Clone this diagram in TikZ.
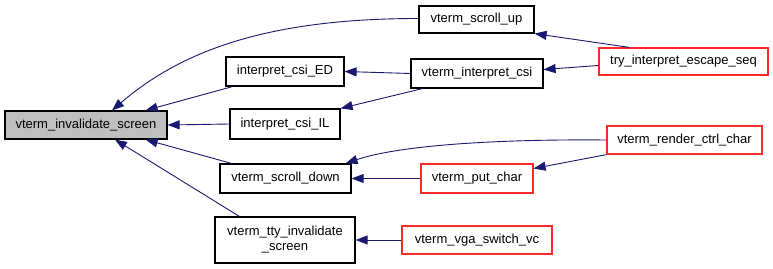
\documentclass[tikz,border=0pt]{standalone}
\usepackage{fontspec}
\setmainfont{Liberation Sans}
\usetikzlibrary{arrows.meta}
\definecolor{edgeblue}{RGB}{25,25,112}
\definecolor{rootgray}{RGB}{191,191,191}
\definecolor{extred}{RGB}{255,40,40}
\tikzset{
  fn/.style={draw=black, line width=1.2pt, fill=white, inner sep=0pt, align=center,
             font=\fontsize{13}{15}\selectfont},
  root/.style={fn, fill=rootgray},
  ext/.style={fn, draw=extred},
  call/.style={draw=edgeblue, line width=0.9pt,
               -{Triangle[length=12pt,width=9pt,fill=edgeblue]}},
}
\begin{document}
\begin{tikzpicture}[x=1pt,y=-1pt]
\useasboundingbox (0,0) rectangle (773,268);
\fill[white] (0,0) rectangle (773,268);

% functions
\node[root, minimum width=162, minimum height=28] (inv) at (86,125) {vterm\_invalidate\_screen};
\node[fn,  minimum width=115, minimum height=27] (su)  at (476.5,19.5) {vterm\_scroll\_up};
\node[fn,  minimum width=118, minimum height=29] (ed)  at (285,71.5) {interpret\_csi\_ED};
\node[fn,  minimum width=110, minimum height=30] (il)  at (285,124) {interpret\_csi\_IL};
\node[fn,  minimum width=132, minimum height=29] (csi) at (477,73.5) {vterm\_interpret\_csi};
\node[fn,  minimum width=131, minimum height=29] (sd)  at (285.5,178.5) {vterm\_scroll\_down};
\node[fn,  minimum width=140, minimum height=46] (tty) at (285,240) {vterm\_tty\_invalidate\\\_screen};
\node[ext, minimum width=169, minimum height=27] (tie) at (683.5,61.5) {try\_interpret\_escape\_seq};
\node[ext, minimum width=112, minimum height=29] (pc)  at (477,178.5) {vterm\_put\_char};
\node[ext, minimum width=150, minimum height=28] (vga) at (477,240) {vterm\_vga\_switch\_vc};
\node[ext, minimum width=155, minimum height=28] (rcc) at (684.5,140) {vterm\_render\_ctrl\_char};

% calls
\draw[call] ([yshift=1]su.west) .. controls +(-150,0) and +(70,-60) .. ([xshift=26]inv.north);
\draw[call] ([xshift=7]ed.south west) -- ([xshift=-22]inv.north east);
\draw[call] (il.west) -- (inv.east);
\draw[call] ([xshift=12]sd.north west) -- ([xshift=-22]inv.south east);
\draw[call] ([xshift=25]tty.north west) -- ([xshift=29]inv.south);
\draw[call] (csi.west) -- (ed.east);
\draw[call] ([xshift=12]csi.south west) -- (il.north east);
\draw[call] ([xshift=31]tie.north west) -- (su.south east);
\draw[call] ([yshift=-4]tie.west) -- ([yshift=4]csi.east);
\draw[call] (rcc.west) .. controls (500,139) and (400,145) .. ([xshift=-6]sd.north east);
\draw[call] (rcc.south west) -- ([yshift=10]pc.east);
\draw[call] (pc.west) -- (sd.east);
\draw[call] (vga.west) -- (tty.east);
\end{tikzpicture}
\end{document}
